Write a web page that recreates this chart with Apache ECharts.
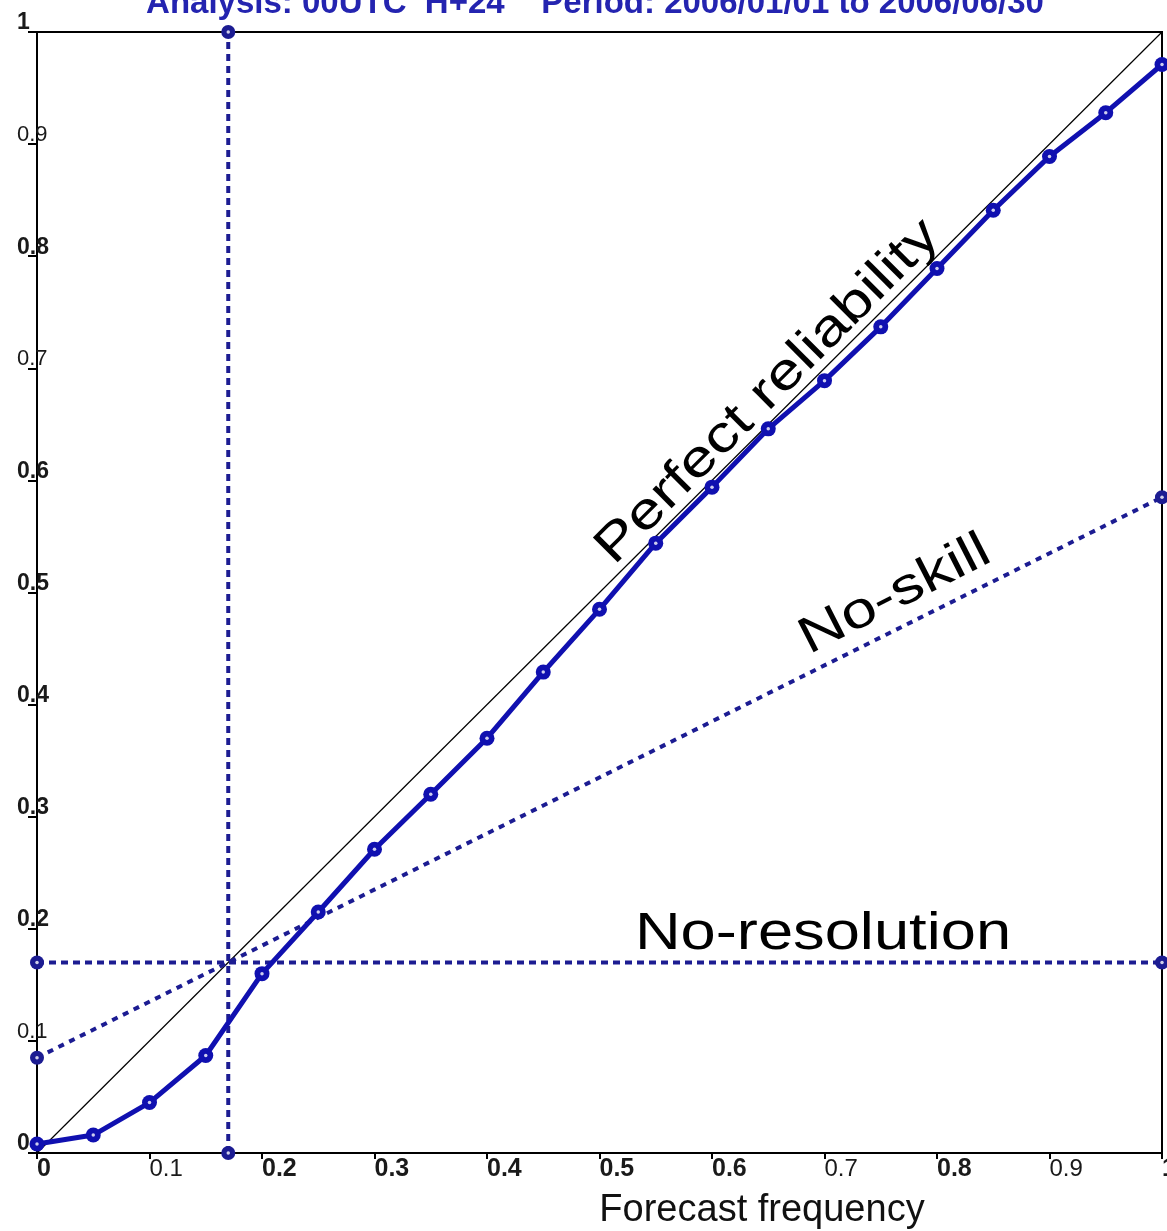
<!DOCTYPE html>
<html>
<head>
<meta charset="utf-8">
<script src="https://cdn.jsdelivr.net/npm/echarts@6/dist/echarts.min.js"></script>
<style>
  html, body { margin: 0; padding: 0; background: #ffffff; }
  #chart { width: 1167px; height: 1231px; }
</style>
</head>
<body>
<div id="chart"></div>
<script>
// Reliability diagram: forecast probability vs observed frequency
const forecastFreq = [0, 0.05, 0.1, 0.15, 0.2, 0.25, 0.3, 0.35, 0.4, 0.45, 0.5,
                      0.55, 0.6, 0.65, 0.7, 0.75, 0.8, 0.85, 0.9, 0.95, 1.0];
const observedFreq = [0.008, 0.016, 0.045, 0.087, 0.160, 0.215, 0.271, 0.320, 0.370, 0.429, 0.485,
                      0.544, 0.594, 0.646, 0.689, 0.737, 0.789, 0.841, 0.889, 0.928, 0.971];

// Sample climatology and the no-skill line end values
const climatology = 0.17;
const noSkillX = [0, 1];
const noSkillY = [0.085, 0.585];

// Tick labels (both axes share the same 0..1 scale)
const tickLabels = ['0', '0.1', '0.2', '0.3', '0.4', '0.5', '0.6', '0.7', '0.8', '0.9', '1'];
const thinX = ['0.1', '0.7', '0.9'];
const thinY = ['0.1', '0.7', '0.9'];

const titleText = 'Analysis: 00UTC  H+24    Period: 2006/01/01 to 2006/06/30';
const xAxisTitle = 'Forecast frequency';

const BLUE = '#1010b0';
const NAVY = '#1c1c92';
const FONT = '"Liberation Sans", Arial, Helvetica, sans-serif';

function labelFormatter(thin) {
  return function (v) {
    const s = tickLabels[Math.round(v * 10)];
    return (thin.indexOf(s) >= 0 ? '{t|' : '{b|') + s + '}';
  };
}

const reliabilityPts = forecastFreq.map((x, i) => [x, observedFreq[i]]);
const noSkillPts = noSkillX.map((x, i) => [x, noSkillY[i]]);
const noResolutionPts = [[0, climatology], [1, climatology]];
const climatologyPts = [[climatology, 0], [climatology, 1]];

// small white dot drawn in the middle of every "o" marker
function markerCentres(pts) {
  return {
    type: 'scatter',
    data: pts,
    symbol: 'circle',
    symbolSize: 3.5,
    clip: false,
    silent: true,
    z: 5,
    itemStyle: { color: '#ffffff' }
  };
}

function dottedLine(name, pts, dash) {
  return {
    name: name,
    type: 'line',
    data: pts,
    clip: false,
    z: 2,
    symbol: 'circle',
    symbolSize: 14,
    itemStyle: { color: NAVY },
    lineStyle: { color: NAVY, width: 4, type: dash }
  };
}

const chart = echarts.init(document.getElementById('chart'), null, { renderer: 'canvas' });

chart.setOption({
  animation: false,
  backgroundColor: '#ffffff',
  grid: {
    left: 37, right: 5, top: 32, bottom: 78,
    containLabel: false,
    outerBoundsMode: 'none',
    show: true,
    borderColor: '#000',
    borderWidth: 2,
    backgroundColor: 'transparent'
  },
  xAxis: {
    type: 'value',
    min: 0, max: 1, interval: 0.1,
    axisLine: { show: true, onZero: false, lineStyle: { color: '#000', width: 2 } },
    axisTick: { show: true, inside: false, length: 6, lineStyle: { color: '#000', width: 2 } },
    splitLine: { show: false },
    axisLabel: {
      show: true,
      margin: 4,
      align: 'left',
      formatter: labelFormatter(thinX),
      rich: {
        b: { fontFamily: FONT, fontSize: 25, fontWeight: 'bold', color: '#1a1a1a' },
        t: { fontFamily: FONT, fontSize: 24, fontWeight: 'normal', color: '#1a1a1a' }
      }
    }
  },
  yAxis: {
    type: 'value',
    min: 0, max: 1, interval: 0.1,
    axisLine: { show: true, onZero: false, lineStyle: { color: '#000', width: 2 } },
    axisTick: { show: true, inside: false, length: 9, lineStyle: { color: '#000', width: 2 } },
    splitLine: { show: false },
    axisLabel: {
      show: true,
      margin: 20,
      align: 'left',
      verticalAlign: 'middle',
      padding: [0, 0, 18, 0],
      formatter: labelFormatter(thinY),
      rich: {
        b: { fontFamily: FONT, fontSize: 23, fontWeight: 'bold', color: '#1a1a1a' },
        t: { fontFamily: FONT, fontSize: 22, fontWeight: 'normal', color: '#1a1a1a' }
      }
    }
  },
  graphic: [
    {
      type: 'text', x: 595, y: 20, silent: true,
      style: {
        text: titleText, fill: '#2424b0',
        font: 'bold 33px ' + FONT,
        textAlign: 'center', align: 'center',
        textVerticalAlign: 'bottom', verticalAlign: 'bottom'
      }
    },
    {
      type: 'text', x: 762, y: 1211, silent: true,
      style: {
        text: xAxisTitle, fill: '#111',
        font: 'normal 38px ' + FONT,
        textAlign: 'center', align: 'center',
        textVerticalAlign: 'middle', verticalAlign: 'middle'
      }
    },
    {
      type: 'text', x: 768, y: 392, rotation: Math.PI / 4, scaleX: 1.24, silent: true, z: 10,
      style: {
        text: 'Perfect reliability', fill: '#000',
        font: 'normal 51px ' + FONT,
        textAlign: 'center', align: 'center',
        textVerticalAlign: 'middle', verticalAlign: 'middle'
      }
    },
    {
      type: 'text', x: 895, y: 595, rotation: 27 * Math.PI / 180, scaleX: 1.24, silent: true, z: 10,
      style: {
        text: 'No-skill', fill: '#000',
        font: 'normal 51px ' + FONT,
        textAlign: 'center', align: 'center',
        textVerticalAlign: 'middle', verticalAlign: 'middle'
      }
    },
    {
      type: 'text', x: 823, y: 935, scaleX: 1.24, silent: true, z: 10,
      style: {
        text: 'No-resolution', fill: '#000',
        font: 'normal 51px ' + FONT,
        textAlign: 'center', align: 'center',
        textVerticalAlign: 'middle', verticalAlign: 'middle'
      }
    }
  ],
  series: [
    {
      name: 'Perfect reliability',
      type: 'line',
      data: [[0, 0], [1, 1]],
      symbol: 'none',
      clip: false,
      z: 1,
      lineStyle: { color: '#000', width: 1.2 }
    },
    dottedLine('No-skill', noSkillPts, [6, 6]),
    dottedLine('No-resolution', noResolutionPts, [7, 5]),
    dottedLine('Climatology', climatologyPts, [7, 5]),
    {
      name: 'Reliability',
      type: 'line',
      data: reliabilityPts,
      clip: false,
      z: 3,
      symbol: 'circle',
      symbolSize: 15,
      lineStyle: { color: BLUE, width: 5 },
      itemStyle: { color: BLUE }
    },
    markerCentres(reliabilityPts),
    markerCentres(noSkillPts),
    markerCentres(noResolutionPts),
    markerCentres(climatologyPts)
  ]
});
</script>
</body>
</html>
